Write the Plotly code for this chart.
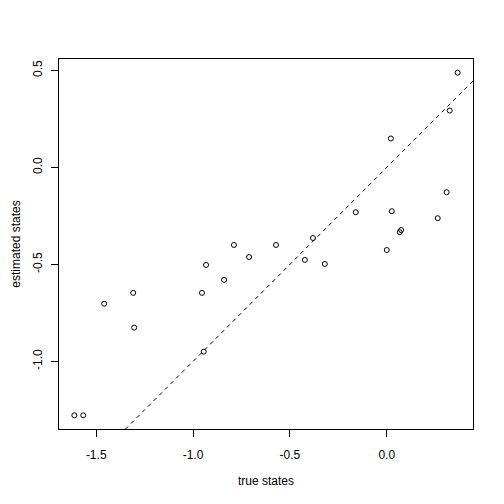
import plotly.graph_objects as go

true_states = [-1.613, -1.567, -1.459, -1.309, -1.304, -0.954, -0.933, -0.945, -0.840, -0.789,
               -0.711, -0.572, -0.423, -0.381, -0.320, -0.160, 0.000, 0.021, 0.026, 0.067,
               0.074, 0.263, 0.309, 0.325, 0.366]
estimated_states = [-1.278, -1.278, -0.703, -0.647, -0.826, -0.647, -0.503, -0.950, -0.580, -0.400,
                    -0.462, -0.400, -0.477, -0.364, -0.498, -0.231, -0.426, 0.149, -0.226, -0.334,
                    -0.323, -0.262, -0.128, 0.293, 0.488]
abline_intercept = 0.0
abline_slope = 1.0

xtick_vals = [-1.5, -1.0, -0.5, 0.0]
xtick_text = ["-1.5", "-1.0", "-0.5", "0.0"]
ytick_vals = [-1.0, -0.5, 0.0, 0.5]
ytick_text = ["-1.0", "-0.5", "0.0", "0.5"]

# R-style axis range (4% extension)
def r_range(v):
    lo, hi = min(v), max(v)
    d = 0.04 * (hi - lo)
    return [lo - d, hi + d]

xr = r_range(true_states)
yr = r_range(estimated_states)

line_x = [xr[0] - 1, xr[1] + 1]
line_y = [abline_intercept + abline_slope * v for v in line_x]

fig = go.Figure()
fig.add_trace(go.Scatter(x=line_x, y=line_y, mode="lines",
                         line=dict(color="black", width=1, dash="4px,4px"),
                         hoverinfo="skip", showlegend=False))
fig.add_trace(go.Scatter(x=true_states, y=estimated_states, mode="markers",
                         marker=dict(symbol="circle-open", size=5, color="black",
                                     line=dict(width=1, color="black")),
                         showlegend=False))

font = dict(family="Liberation Sans, Arial, sans-serif", size=12, color="black")

fig.update_layout(
    width=496, height=496,
    margin=dict(l=51, r=31, t=51, b=75),
    paper_bgcolor="white", plot_bgcolor="white",
    font=font,
    xaxis=dict(range=xr, showgrid=False, zeroline=False, showline=True, mirror=True,
               linecolor="black", linewidth=1, ticks="outside", ticklen=7,
               tickcolor="black", tickwidth=1, tickvals=xtick_vals, ticktext=xtick_text,
               tickfont=font, ticklabelstandoff=8),
    yaxis=dict(range=yr, showgrid=False, zeroline=False, showline=True, mirror=True,
               linecolor="black", linewidth=1, ticks="outside", ticklen=7,
               tickcolor="black", tickwidth=1, tickvals=ytick_vals, ticktext=ytick_text,
               tickangle=-90, tickfont=font, ticklabelstandoff=4),
    annotations=[
        dict(text="true states", xref="paper", yref="paper", x=0.5, y=0,
             xanchor="center", yanchor="middle", yshift=-52.4, showarrow=False, font=font),
        dict(text="estimated states", xref="paper", yref="paper", x=0, y=0.5,
             xanchor="center", yanchor="middle", xshift=-43.3, textangle=-90,
             showarrow=False, font=font),
    ],
)

fig.write_html("out.html")
